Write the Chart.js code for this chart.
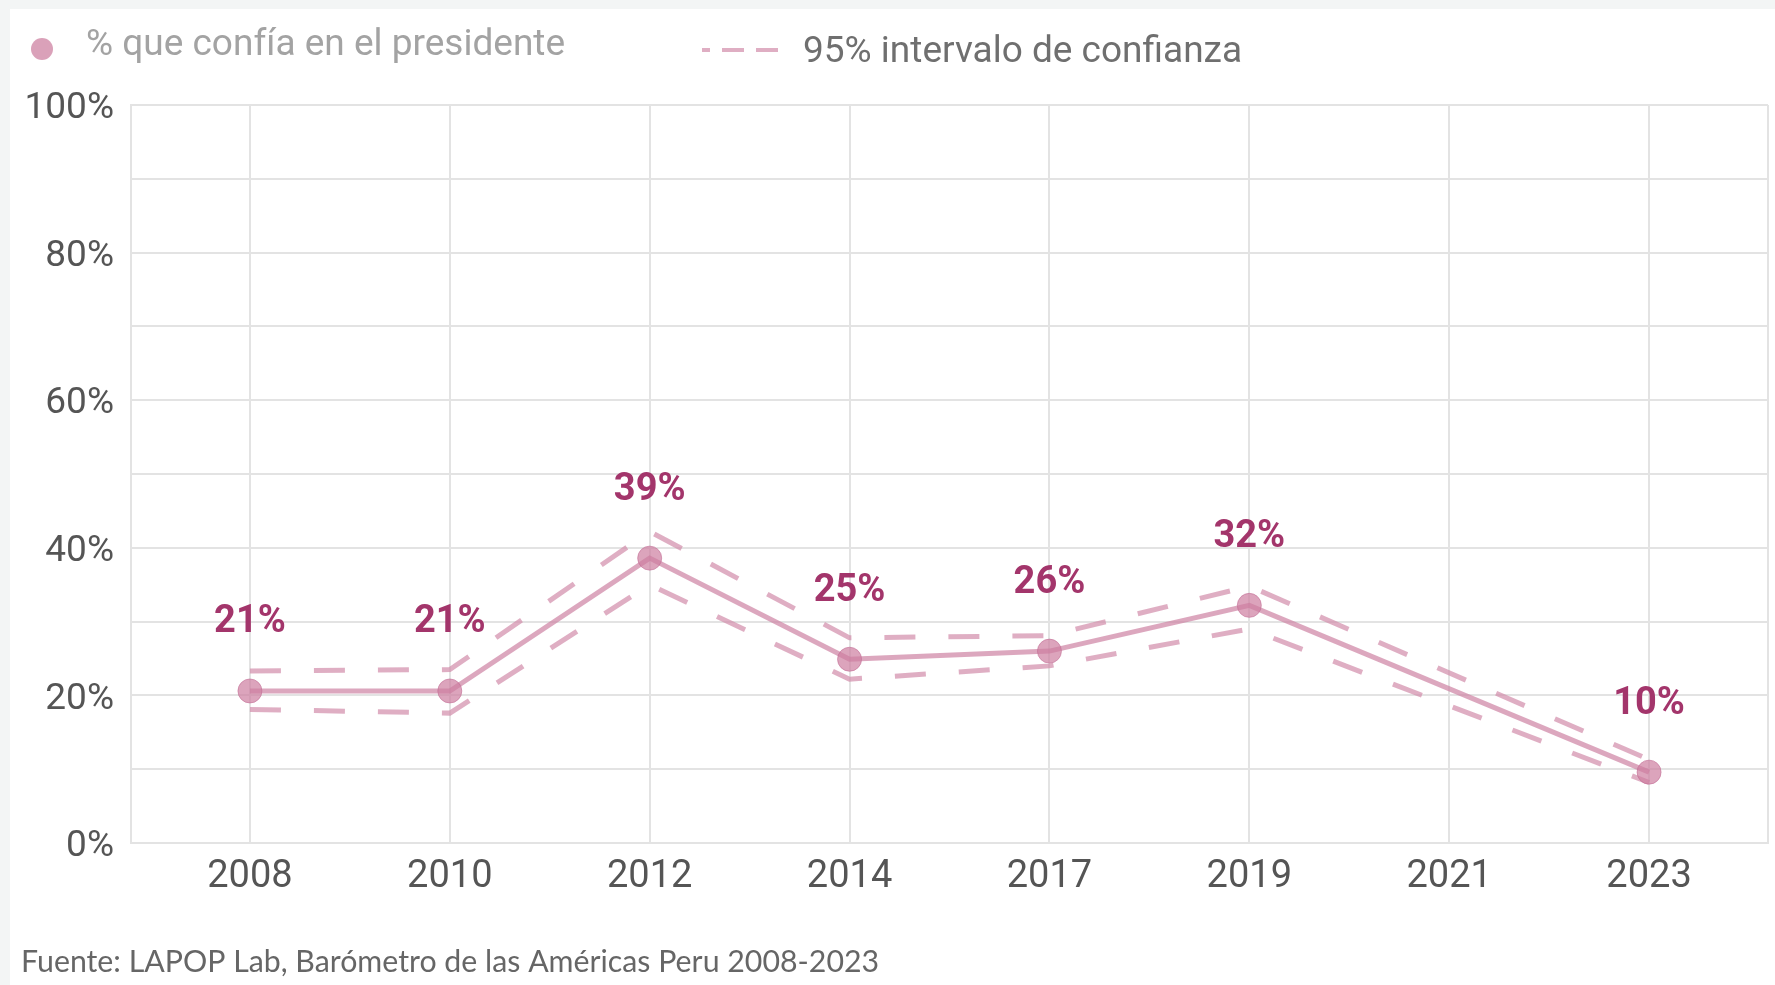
<!DOCTYPE html>
<html>
<head>
<meta charset="utf-8">
<script src="https://cdn.jsdelivr.net/npm/chart.js@4.4.1/dist/chart.umd.min.js"></script>
<style>
  html, body { margin: 0; padding: 0; background: #f3f5f5; overflow: hidden; }
  #wrap { position: relative; width: 1775px; height: 985px; }
  canvas { display: block; }
</style>
</head>
<body>
<div id="wrap"><canvas id="lineChart" width="1775" height="985"></canvas></div>
<script>
// values
const years = ["2008", "2010", "2012", "2014", "2017", "2019", "2021", "2023"];
const confia = [20.6, 20.6, 38.6, 24.9, 26.0, 32.2, null, 9.6];
const ciUpper = [23.3, 23.5, 42.2, 27.8, 28.1, 34.8, null, 11.3];
const ciLower = [18.1, 17.6, 35.0, 22.2, 24.0, 29.0, null, 8.2];
const yTicks = [0, 10, 20, 30, 40, 50, 60, 70, 80, 90, 100];

const legendMain = "% que confía en el presidente";
const legendCI = "95% intervalo de confianza";
const fuente = "Fuente: LAPOP Lab, Barómetro de las Américas Peru 2008-2023";

const lineColor = "rgba(205, 130, 162, 0.7)";
const dashColor = "rgba(210, 140, 170, 0.7)";
const labelColor = "#a3356b";
const gridColor = "#e3e3e3";

const toPoints = (arr) => arr.map((v, i) => ({ x: i, y: v }));

// background, legend, footer and value labels
const decorPlugin = {
  id: "decor",
  beforeDraw(chart) {
    const ctx = chart.ctx;
    ctx.save();
    ctx.fillStyle = "#f3f5f5";
    ctx.fillRect(0, 0, chart.width, chart.height);
    ctx.fillStyle = "#ffffff";
    ctx.fillRect(10, 9, chart.width - 10, chart.height - 9);
    ctx.restore();
  },
  afterDatasetsDraw(chart) {
    const ctx = chart.ctx;
    ctx.save();

    // legend: point marker
    ctx.fillStyle = "rgba(205, 130, 162, 0.75)";
    ctx.beginPath();
    ctx.arc(42, 49, 11, 0, Math.PI * 2);
    ctx.fill();
    ctx.font = "37px Roboto";
    ctx.fillStyle = "#a3a3a3";
    ctx.textBaseline = "middle";
    ctx.textAlign = "left";
    ctx.fillText(legendMain, 86, 46);

    // legend: dashed line
    ctx.strokeStyle = dashColor;
    ctx.lineWidth = 4;
    ctx.setLineDash([22, 12]);
    ctx.lineDashOffset = 14;
    ctx.beginPath();
    ctx.moveTo(702, 50);
    ctx.lineTo(786, 50);
    ctx.stroke();
    ctx.setLineDash([]);
    ctx.fillStyle = "#6f6f6f";
    ctx.fillText(legendCI, 803, 53);

    // footer
    ctx.font = "30.3px Lato";
    ctx.fillStyle = "#666666";
    ctx.fillText(fuente, 21, 962);

    // value labels above the points
    const meta = chart.getDatasetMeta(0);
    ctx.font = "bold 38px Roboto";
    ctx.fillStyle = labelColor;
    ctx.textAlign = "center";
    meta.data.forEach((pt, i) => {
      if (confia[i] === null) return;
      ctx.fillText(Math.round(confia[i]) + "%", pt.x, pt.y - 68);
    });
    ctx.restore();
  }
};

new Chart(document.getElementById("lineChart"), {
  type: "line",
  data: {
    datasets: [
      {
        label: legendMain,
        data: toPoints(confia),
        borderColor: lineColor,
        borderWidth: 5,
        pointRadius: 12,
        pointBackgroundColor: "rgba(205, 125, 160, 0.7)",
        pointBorderColor: "rgba(195, 110, 150, 0.6)",
        pointBorderWidth: 1,
        spanGaps: true,
        tension: 0,
        order: 0
      },
      {
        label: legendCI + " (sup)",
        data: toPoints(ciUpper),
        borderColor: dashColor,
        borderWidth: 5,
        borderDash: [31, 33],
        pointRadius: 0,
        spanGaps: true,
        tension: 0,
        order: 1
      },
      {
        label: legendCI + " (inf)",
        data: toPoints(ciLower),
        borderColor: dashColor,
        borderWidth: 5,
        borderDash: [31, 33],
        pointRadius: 0,
        spanGaps: true,
        tension: 0,
        order: 1
      }
    ]
  },
  options: {
    responsive: false,
    animation: false,
    devicePixelRatio: 1,
    layout: { autoPadding: false, padding: { left: 10, top: 105, right: 7, bottom: 0 } },
    plugins: {
      legend: { display: false },
      tooltip: { enabled: false }
    },
    scales: {
      x: {
        type: "linear",
        min: -0.595,
        max: years.length - 1 + 0.595,
        afterBuildTicks: (s) => {
          s.ticks = [s.min, ...years.map((y, i) => i), s.max].map((v) => ({ value: v }));
        },
        afterFit: (s) => {
          s.height = 142;
          s.paddingLeft = 0;
          s.paddingRight = 0;
        },
        grid: { color: gridColor, lineWidth: 2, drawTicks: false },
        border: { color: gridColor, width: 2 },
        ticks: {
          padding: 12,
          color: "#555555",
          font: { family: "Roboto", size: 38 },
          maxRotation: 0,
          autoSkip: false,
          callback: (v) => (Number.isInteger(v) ? years[v] : "")
        }
      },
      y: {
        min: 0,
        max: 100,
        afterBuildTicks: (s) => {
          s.ticks = yTicks.map((v) => ({ value: v }));
        },
        afterFit: (s) => {
          s.width = 121;
          s.paddingTop = 0;
          s.paddingBottom = 0;
        },
        grid: { color: gridColor, lineWidth: 2, drawTicks: false },
        border: { color: gridColor, width: 2 },
        ticks: {
          padding: 17,
          labelOffset: 4,
          color: "#555555",
          font: { family: "Roboto", size: 37 },
          callback: (v) => (v % 20 === 0 ? v + "%" : "")
        }
      }
    }
  },
  plugins: [decorPlugin]
});
</script>
</body>
</html>
